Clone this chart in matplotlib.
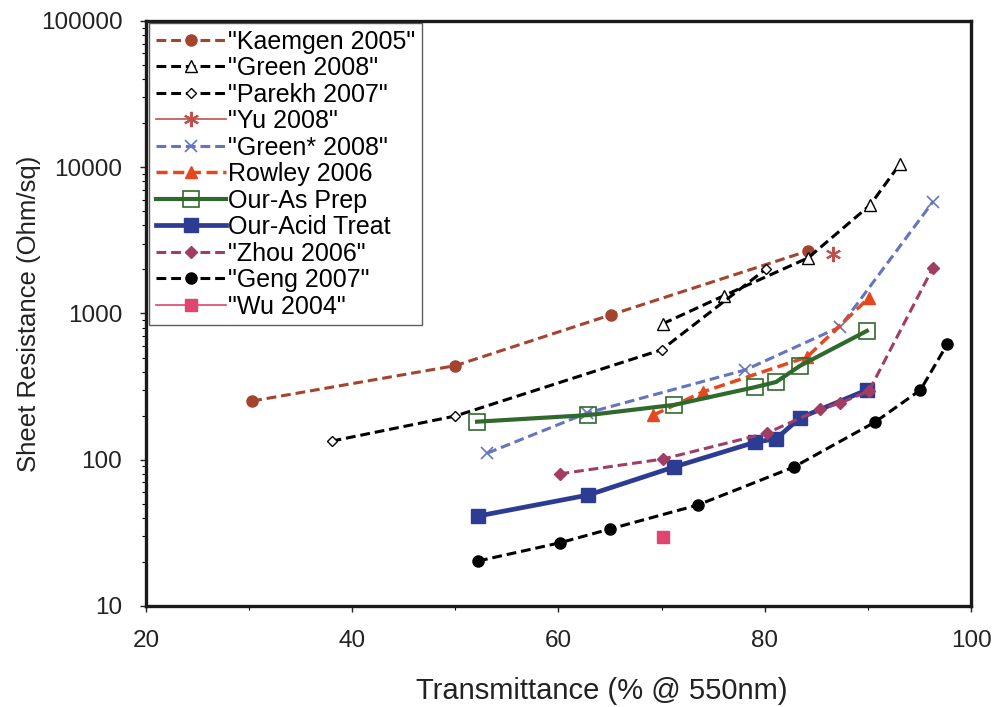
import numpy as np
import matplotlib
matplotlib.use("Agg")
import matplotlib.pyplot as plt
from matplotlib.ticker import FixedLocator, NullFormatter, LogLocator

plt.rcParams['font.family'] = ['Liberation Sans', 'DejaVu Sans']

# transmittance (%) and sheet resistance (Ohm/sq) for each source
kaemgen_x = [30.3, 50.0, 65.1, 84.2]
kaemgen_y = [252, 440, 980, 2680]
green_x = [70.1, 76.0, 84.2, 90.2, 93.1]
green_y = [850, 1320, 2400, 5500, 10500]
parekh_x = [38.0, 50.0, 70.0, 80.1]
parekh_y = [134, 199, 565, 2010]
yu_x = [86.6]
yu_y = [2550]
greenstar_x = [53.1, 62.8, 78.1, 87.3, 96.3]
greenstar_y = [111, 209, 411, 810, 5800]
rowley_x = [69.2, 74.0, 84.1, 90.1]
rowley_y = [202, 291, 504, 1280]
asprep_x = [52.1, 62.9, 71.2, 79.1, 81.1, 83.4, 89.9]
asprep_y = [182, 202, 237, 314, 340, 438, 760]
acid_x = [52.2, 62.9, 71.2, 79.1, 81.1, 83.4, 89.9]
acid_y = [41.2, 57.4, 89.2, 132, 139, 193, 300]
zhou_x = [60.1, 70.1, 80.2, 85.4, 87.3, 90.1, 96.3]
zhou_y = [80, 101, 152, 222, 244, 295, 2050]
geng_x = [52.2, 60.1, 65.0, 73.5, 82.8, 90.7, 95.1, 97.7]
geng_y = [20.3, 27, 33.6, 49, 89, 181, 300, 618]
wu_x = [70.1]
wu_y = [29.6]

fig = plt.figure(figsize=(9.99, 7.07), dpi=100)
ax = fig.add_axes([0.1461, 0.1429, 0.8259, 0.8274])

dash = (3.2, 1.6)
ax.plot(kaemgen_x, kaemgen_y, color='#A5442E', lw=2.2, dashes=dash, marker='o',
        ms=8, label='"Kaemgen 2005"')
ax.plot(green_x, green_y, color='black', lw=2.2, dashes=dash, marker='^', ms=9,
        mfc='white', mec='black', mew=1.0, label='"Green 2008"')
ax.plot(parekh_x, parekh_y, color='black', lw=2.2, dashes=dash, marker='D', ms=5.5,
        mfc='white', mec='black', mew=1.0, label='"Parekh 2007"')
ax.plot(yu_x, yu_y, color='#C0504D', lw=1.2, marker=(6, 2, 0), ms=11, mew=1.5,
        label='"Yu 2008"')
ax.plot(greenstar_x, greenstar_y, color='#6574BE', lw=2.2, dashes=dash, marker='x',
        ms=9, mew=1.2, label='"Green* 2008"')
ax.plot(rowley_x, rowley_y, color='#E5481F', lw=2.5, dashes=dash, marker='^', ms=9,
        label='Rowley 2006')
ax.plot(asprep_x, asprep_y, color='#2F6A2C', lw=3.0, marker='s', ms=11,
        mfc='none', mec='#2F6A2C', mew=1.2, label='Our-As Prep')
ax.plot(acid_x, acid_y, color='#2C3C92', lw=3.4, marker='s', ms=10,
        label='Our-Acid Treat')
ax.plot(zhou_x, zhou_y, color='#A23C64', lw=2.2, dashes=dash, marker='D', ms=6.5,
        label='"Zhou 2006"')
ax.plot(geng_x, geng_y, color='black', lw=2.2, dashes=dash, marker='o', ms=8,
        label='"Geng 2007"')
ax.plot(wu_x, wu_y, color='#E04470', lw=1.2, marker='s', ms=9, label='"Wu 2004"')

ax.set_yscale('log')
ax.set_xlim(20, 100)
ax.set_ylim(10, 100000)

ax.xaxis.set_major_locator(FixedLocator([20, 40, 60, 80, 100]))
ax.xaxis.set_minor_locator(FixedLocator([30, 50, 70, 90]))
ax.yaxis.set_major_locator(FixedLocator([10, 100, 1000, 10000, 100000]))
ax.yaxis.set_major_formatter(plt.FuncFormatter(lambda v, p: f'{int(round(v))}'))
ax.yaxis.set_minor_locator(LogLocator(base=10, subs=np.arange(2, 10)))
ax.yaxis.set_minor_formatter(NullFormatter())

ax.tick_params(axis='both', which='major', direction='out', length=4, width=1.0,
               labelsize=17.5, pad=13, colors='#222222')
ax.tick_params(axis='both', which='minor', direction='out', length=3, width=0.8)
for s in ax.spines.values():
    s.set_linewidth(2.4)
    s.set_color('#1a1a1a')

ax.set_xlabel('Transmittance (% @ 550nm)', fontsize=21, color='#222222')
ax.set_ylabel('Sheet Resistance (Ohm/sq)', fontsize=18.5, color='#222222')
ax.xaxis.set_label_coords(0.552, -0.122)
ax.yaxis.set_label_coords(-0.127, 0.5)

leg = ax.legend(loc='upper left', bbox_to_anchor=(0.004, 0.996), fontsize=18,
                frameon=True, fancybox=False, handlelength=2.8, handletextpad=0.1,
                labelspacing=0.1, borderpad=0.25, borderaxespad=0.0)
leg.get_frame().set_edgecolor('#333333')
leg.get_frame().set_linewidth(1.0)

fig.savefig('out.png', dpi=100)
